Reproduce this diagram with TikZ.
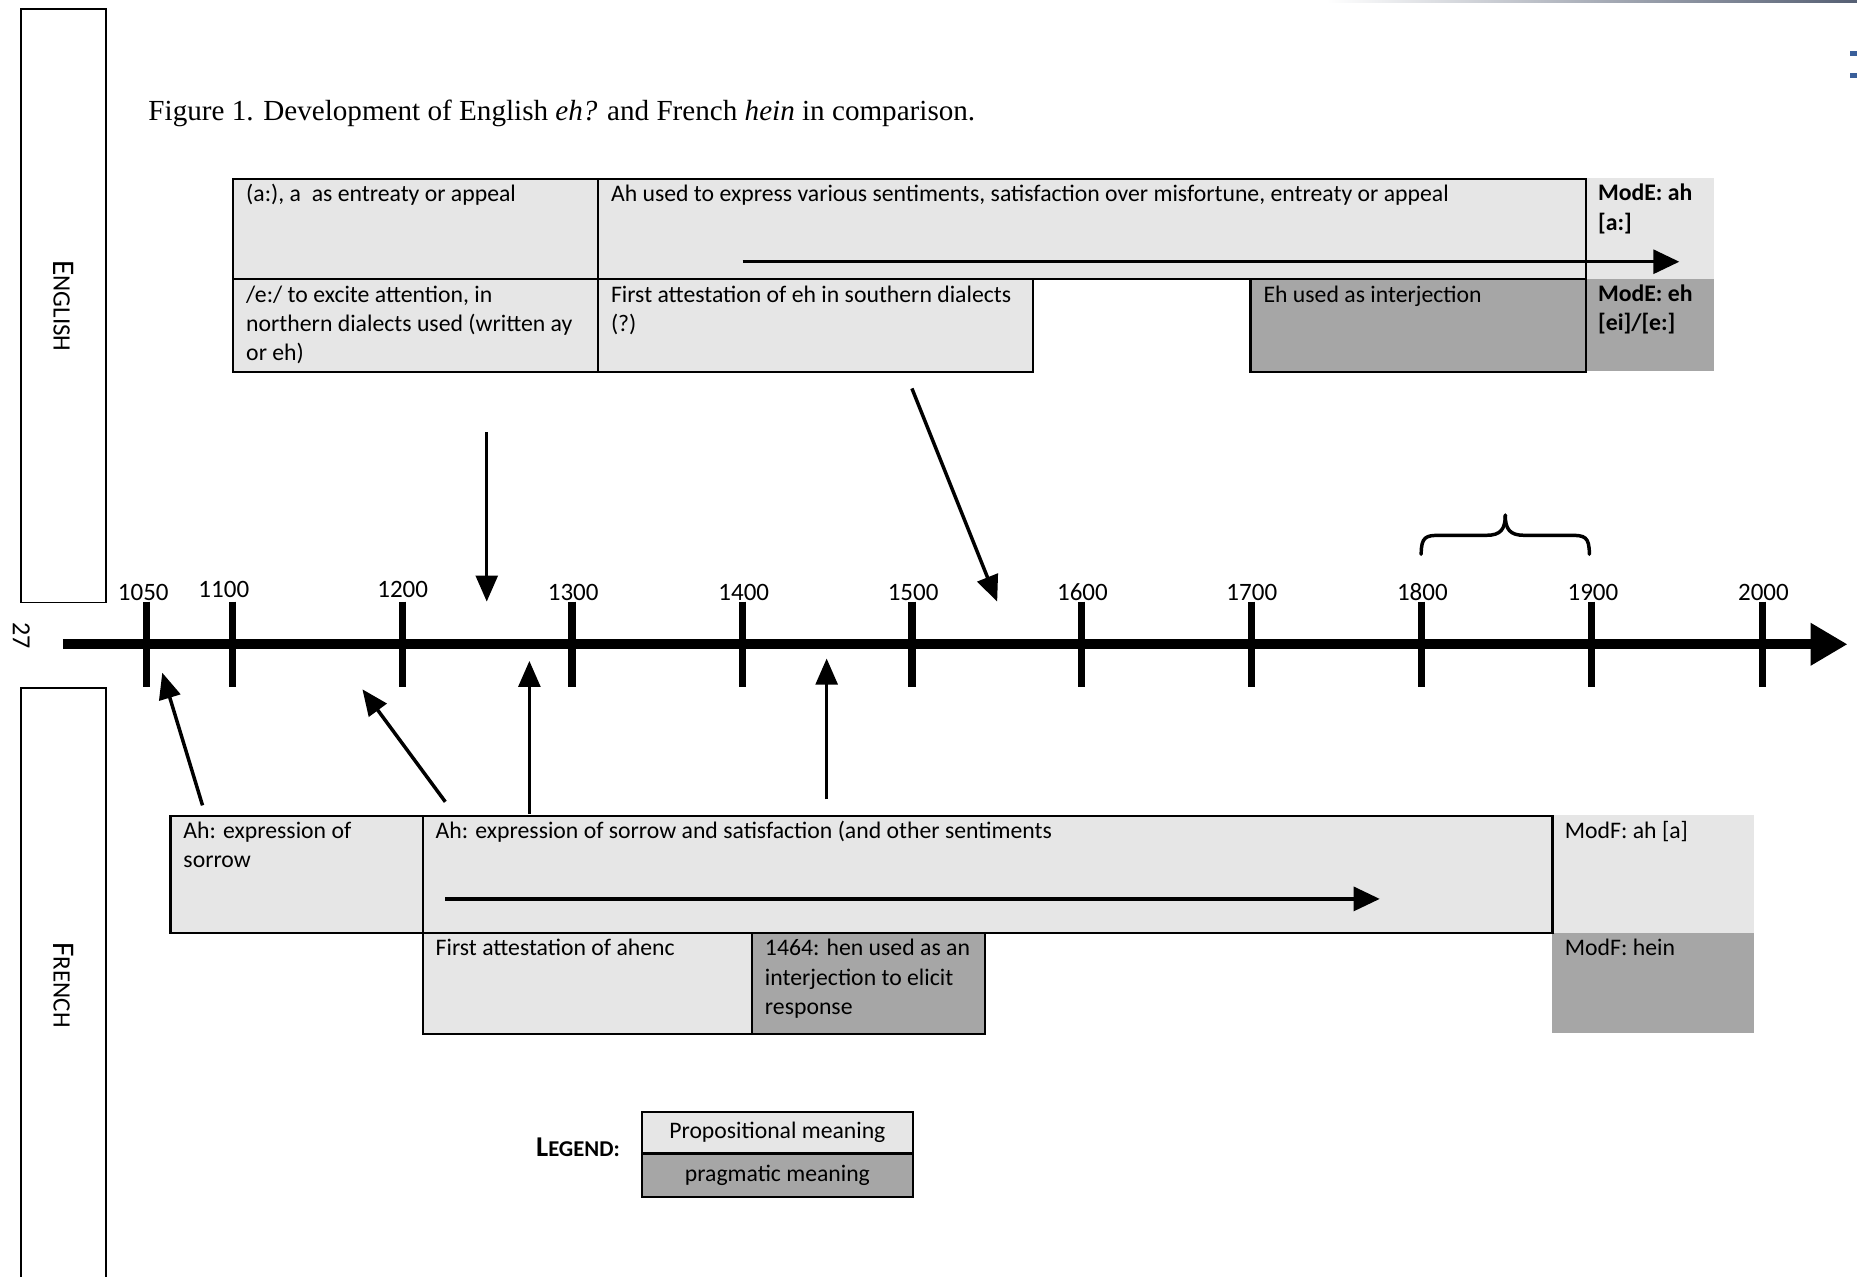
\documentclass[tikz,border=0pt]{standalone}
\usepackage{fontspec}
\setmainfont{Carlito}
\newfontfamily\capfont{Liberation Serif}
\usetikzlibrary{arrows.meta}
\newdimen\U \U=0.5448pt
\definecolor{lightg}{HTML}{E6E6E6}
\definecolor{darkg}{HTML}{A6A6A6}
\definecolor{bluemark}{HTML}{3A5F9A}
\newcommand{\bodyf}{\fontsize{10.92pt}{13.4pt}\selectfont}
\newcommand{\cellc}[3]{\parbox[c][#2\U][t]{#1\U}{\raggedright\leftskip=11\U\relax\parindent=0pt\rule{0pt}{10.5pt}#3\par}}
\tikzset{
  cellL/.style={draw, line width=1pt, fill=lightg, inner sep=0pt, anchor=north west, font=\bodyf},
  cellD/.style={draw, line width=1pt, fill=darkg, inner sep=0pt, anchor=north west, font=\bodyf},
  cellNL/.style={fill=lightg, inner sep=0pt, anchor=north west, font=\bodyf},
  cellND/.style={fill=darkg, inner sep=0pt, anchor=north west, font=\bodyf},
  sidebox/.style={draw, line width=0.8pt, inner sep=0pt, anchor=north west},
  yearlbl/.style={font=\fontsize{11.5pt}{14pt}\selectfont, inner sep=0pt},
  conn/.style={line width=1.6pt, -{Triangle[length=12pt,width=10pt]}},
  inarrow/.style={line width=1.6pt, -{Triangle[length=12pt,width=11pt]}},
  legbox/.style={draw, line width=1pt, inner sep=0pt, anchor=north west, minimum width=229*\U, font=\fontsize{10.9pt}{13pt}\selectfont}
}
\newcommand{\capbig}{\fontsize{14.5pt}{16pt}\selectfont}
\newcommand{\capsmall}{\fontsize{11.5pt}{13pt}\selectfont}
\begin{document}
\begin{tikzpicture}[x=0.5448pt, y=-0.5448pt]
\useasboundingbox (0,0) rectangle (1568,1078);
% top-right page decoration
\shade[left color=white, right color={rgb,255:red,85;green,95;blue,115}] (1120,0) rectangle (1568,2);
\fill[bluemark] (1562,43) rectangle (1568,47);
\fill[bluemark] (1562,62) rectangle (1568,66);

% side boxes
\node[sidebox, minimum width=72*\U, minimum height=501*\U] (eng) at (17,7) {\rotatebox{-90}{\capbig E\capsmall NGLISH}};
\node[sidebox, minimum width=72*\U, minimum height=502*\U] (fre) at (17,580) {\rotatebox{-90}{\capbig F\capsmall RENCH}};
\node[rotate=-90, font=\fontsize{12pt}{14pt}\selectfont, inner sep=0pt] (pnum) at (18,537) {27};

% caption
\node[anchor=base west, inner sep=0pt, font=\capfont\fontsize{13.4pt}{16pt}\selectfont] (cap) at (125,102) {Figure 1. Development of English \textit{eh?} and French \textit{hein} in comparison.};

% English rows
\node[cellNL] (mah) at (1338,150) {\cellc{109}{85}{\bfseries ModE: ah\\{}[a:]}};
\node[cellND] (meh) at (1338,235) {\cellc{109}{78}{\bfseries ModE: eh\\{}[ei]/[e:]}};
\node[cellL] (ea) at (196,150) {\cellc{308}{85}{(a:), a\ \ as entreaty or appeal}};
\node[cellL] (eb) at (504,150) {\cellc{834}{85}{Ah used to express various sentiments, satisfaction over misfortune, entreaty or appeal}};
\node[cellL] (ec) at (196,235) {\cellc{308}{78}{/e:/ to excite attention, in\\northern dialects used (written ay\\or eh)}};
\node[cellL] (ed) at (504,235) {\cellc{367}{78}{First attestation of eh in southern dialects\\(?)}};
\node[cellD] (ee) at (1055,235) {\cellc{283}{78}{Eh used as interjection}};
\coordinate (ie1s) at (627,221);
\coordinate (ie1e) at (1418,221);
\draw[inarrow] (ie1s) -- (ie1e);

% French rows
\node[cellNL] (mfa) at (1310,688) {\cellc{171}{99}{ModF: ah [a]}};
\node[cellND] (mfh) at (1310,787) {\cellc{171}{85}{ModF: hein}};
\node[cellL] (ff) at (143,688) {\cellc{213}{99}{Ah: expression of\\sorrow}};
\node[cellL] (fg) at (356,688) {\cellc{954}{99}{Ah: expression of sorrow and satisfaction (and other sentiments}};
\node[cellL] (fh) at (356,787) {\cellc{278}{85}{First attestation of ahenc}};
\node[cellD] (fi) at (634,787) {\cellc{197}{85}{1464: hen used as an\\interjection to elicit\\response}};
\coordinate (if1s) at (376,759);
\coordinate (if1e) at (1165,759);
\draw[inarrow] (if1s) -- (if1e);

% timeline
\coordinate (axL) at (53,544);
\coordinate (axR) at (1560,544);
\draw[line width=4.4pt, -{Triangle[length=17pt,width=18.5pt]}] (axL) -- (axR);
\foreach \tx in {124,196,340,483,627,770,913,1057,1200,1344,1488}
  \draw[line width=3.3pt] (\tx,508) -- (\tx,580);
\node[yearlbl] (y1050) at (121,500) {1050};
\node[yearlbl] (y1100) at (189,498) {1100};
\node[yearlbl] (y1200) at (340,498) {1200};
\node[yearlbl] (y1300) at (484,500) {1300};
\node[yearlbl] (y1400) at (628,500) {1400};
\node[yearlbl] (y1500) at (771,500) {1500};
\node[yearlbl] (y1600) at (914,500) {1600};
\node[yearlbl] (y1700) at (1057,500) {1700};
\node[yearlbl] (y1800) at (1201,500) {1800};
\node[yearlbl] (y1900) at (1345,500) {1900};
\node[yearlbl] (y2000) at (1489,500) {2000};

% brace
\draw[line width=1.6pt, line cap=round] (1200,468) .. controls (1200,453) and (1204,452) .. (1216,452) -- (1255,452) .. controls (1267,452) and (1271,447) .. (1271,435);
\draw[line width=1.6pt, line cap=round] (1342,468) .. controls (1342,453) and (1338,452) .. (1326,452) -- (1287,452) .. controls (1275,452) and (1271,447) .. (1271,435);

% connectors
\coordinate (d1s) at (411,365); \coordinate (d1e) at (411,508);
\coordinate (d2s) at (770,328); \coordinate (d2e) at (842,508);
\coordinate (u1s) at (171,680); \coordinate (u1e) at (137,568);
\coordinate (u2s) at (376,677); \coordinate (u2e) at (306,582);
\coordinate (u3s) at (447,687); \coordinate (u3e) at (447,558);
\coordinate (u4s) at (698,675); \coordinate (u4e) at (698,556);
\draw[conn] (d1s) -- (d1e);
\draw[conn] (d2s) -- (d2e);
\draw[conn] (u1s) -- (u1e);
\draw[conn] (u2s) -- (u2e);
\draw[conn] (u3s) -- (u3e);
\draw[conn] (u4s) -- (u4e);

% legend
\node[font=\bfseries, inner sep=0pt] (leg) at (488,969) {{\fontsize{13.2pt}{15pt}\selectfont L}{\fontsize{10.4pt}{12pt}\selectfont EGEND:}};
\node[legbox, fill=lightg, minimum height=35*\U] (lprop) at (541,938) {Propositional meaning};
\node[legbox, fill=darkg, minimum height=37*\U] (lprag) at (541,973) {pragmatic meaning};
\end{tikzpicture}
\end{document}
